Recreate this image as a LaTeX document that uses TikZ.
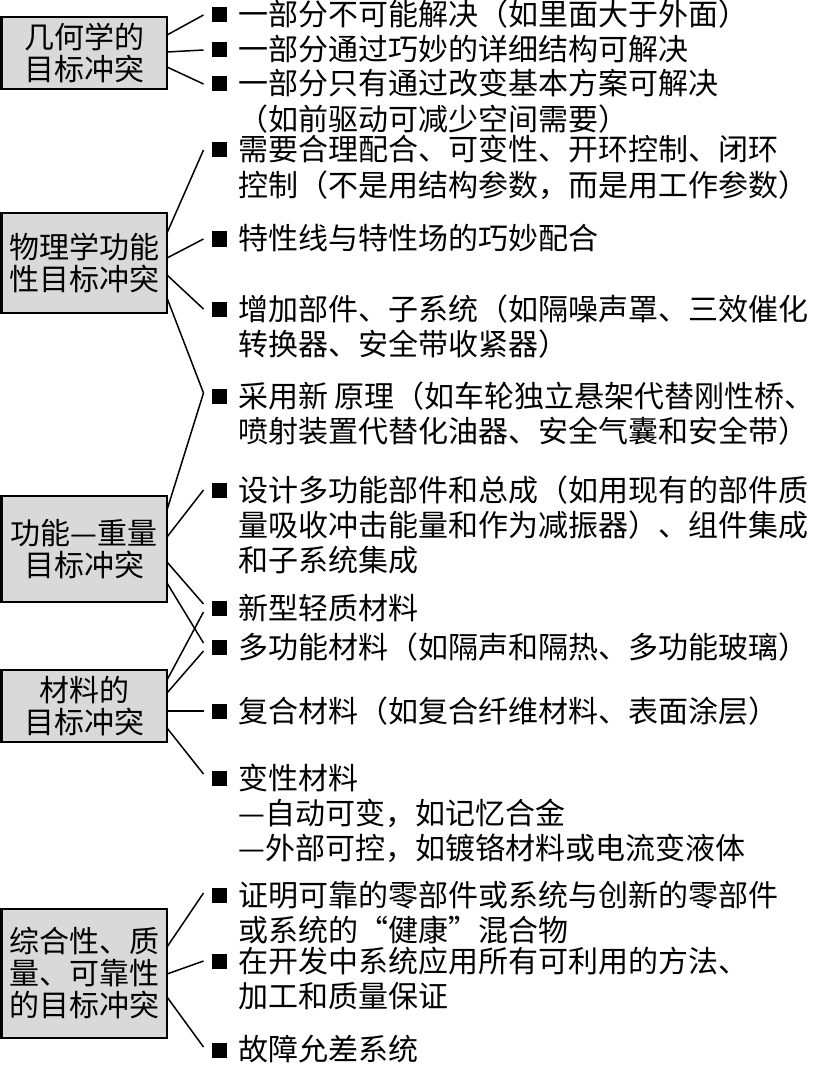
\documentclass[tikz,border=0pt]{standalone}
\usepackage{fontspec}
\newfontfamily\cjk{Noto Sans CJK SC}
\usetikzlibrary{calc}
\definecolor{boxgray}{RGB}{217,217,217}
\newcommand\itemtext[1]{\begin{tabular}[t]{@{}l@{}}#1\end{tabular}}
\begin{document}
\begin{tikzpicture}[x=1pt,y=-1pt,
  box/.style={draw, line width=2.2pt, fill=boxgray, minimum width=165.5pt, inner sep=0pt, outer sep=0pt, align=center, font=\cjk\fontsize{30}{32}\selectfont},
  bul/.style={fill=black, minimum size=15pt, inner sep=0pt, outer xsep=8pt, outer ysep=0pt},
  txt/.style={anchor=base west, inner sep=0pt, font=\cjk\fontsize{30}{33}\selectfont},
  conn/.style={line width=1.5pt}]
\useasboundingbox (0,0) rectangle (819,1067);
\fill[white] (0,0) rectangle (819,1067);

% category boxes
\node[box, minimum height=72pt]  (g1) at (84.25,53)   {几何学的\\目标冲突};
\node[box, minimum height=100pt] (g2) at (84.25,263)  {物理学功能\\性目标冲突};
\node[box, minimum height=106pt] (g3) at (84.25,549)  {功能—重量\\目标冲突};
\node[box, minimum height=72pt]  (g4) at (84.25,706)  {材料的\\目标冲突};
\node[box, minimum height=129pt] (g5) at (84.25,973.5){综合性、质\\量、可靠性\\的目标冲突};

% bullets
\foreach \n/\y in {1/15,2/50,3/84,4/150,5/239,6/309,7/396,8/490,9/608,10/647,11/711,12/778,13/895,14/961,15/1050}
  \node[bul] (b\n) at (219,\y) {};

% item texts
\node[txt] (t1) at (238,26) {\itemtext{一部分不可能解决（如里面大于外面）}};
\node[txt] (t2) at (238,61) {\itemtext{一部分通过巧妙的详细结构可解决}};
\node[txt] (t3) at (238,95) {\itemtext{一部分只有通过改变基本方案可解决\\（如前驱动可减少空间需要）}};
\node[txt] (t4) at (238,161) {\itemtext{需要合理配合、可变性、开环控制、闭环\\控制（不是用结构参数，而是用工作参数）}};
\node[txt] (t5) at (238,250) {\itemtext{特性线与特性场的巧妙配合}};
\node[txt] (t6) at (238,320) {\itemtext{增加部件、子系统（如隔噪声罩、三效催化\\转换器、安全带收紧器）}};
\node[txt] (t7) at (238,407) {\itemtext{采用新 原理（如车轮独立悬架代替刚性桥、\\喷射装置代替化油器、安全气囊和安全带）}};
\node[txt] (t8) at (238,501) {\itemtext{设计多功能部件和总成（如用现有的部件质\\量吸收冲击能量和作为减振器）、组件集成\\和子系统集成}};
\node[txt] (t9) at (238,619) {\itemtext{新型轻质材料}};
\node[txt] (t10) at (238,658) {\itemtext{多功能材料（如隔声和隔热、多功能玻璃）}};
\node[txt] (t11) at (238,722) {\itemtext{复合材料（如复合纤维材料、表面涂层）}};
\node[txt] (t12) at (238,789) {\itemtext{变性材料\\—自动可变，如记忆合金\\—外部可控，如镀铬材料或电流变液体}};
\node[txt] (t13) at (238,906) {\itemtext{证明可靠的零部件或系统与创新的零部件\\或系统的“健康”混合物}};
\node[txt] (t14) at (238,972) {\itemtext{在开发中系统应用所有可利用的方法、\\加工和质量保证}};
\node[txt] (t15) at (238,1060) {\itemtext{故障允差系统}};

% connectors
\draw[conn] ([yshift=-18pt]g1.north east) -- (b1.west);
\draw[conn] ([yshift=-35pt]g1.north east) -- (b2.west);
\draw[conn] ([yshift=-50pt]g1.north east) -- (b3.west);

\draw[conn] ([yshift=-20pt]g2.north east) -- (b4.west);
\draw[conn] ([yshift=-45pt]g2.north east) -- (b5.west);
\draw[conn] ([yshift=-62pt]g2.north east) -- (b6.west);
\draw[conn] ([yshift=-85pt]g2.north east) -- ([yshift=3pt]b7.west);

\draw[conn] ([yshift=-14pt]g3.north east) -- ([yshift=3pt]b7.west);
\draw[conn] ([yshift=-41pt]g3.north east) -- (b8.west);
\draw[conn] ([yshift=-66pt]g3.north east) -- ([yshift=4pt]b9.west);
\draw[conn] ([yshift=-87pt]g3.north east) -- ([yshift=4pt]b10.west);

\draw[conn] ([yshift=-10pt]g4.north east) -- ([yshift=-4pt]b9.west);
\draw[conn] ([yshift=-23pt]g4.north east) -- ([yshift=-4pt]b10.west);
\draw[conn] ([yshift=-41pt]g4.north east) -- (b11.west);
\draw[conn] ([yshift=-58pt]g4.north east) -- ([yshift=4pt]b12.west);

\draw[conn] ([yshift=-38pt]g5.north east) -- ([yshift=2pt]b13.west);
\draw[conn] ([yshift=-65pt]g5.north east) -- (b14.west);
\draw[conn] ([yshift=-88pt]g5.north east) -- ([yshift=3pt]b15.west);
\end{tikzpicture}
\end{document}
